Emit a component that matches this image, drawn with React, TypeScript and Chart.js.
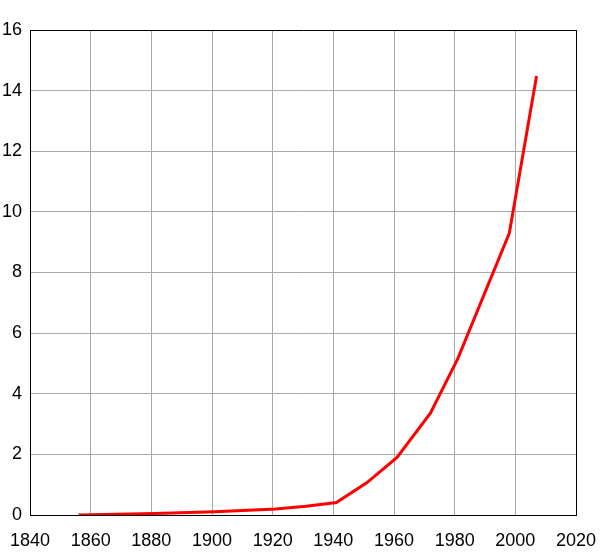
import React, { useEffect, useRef } from "react";
import { Chart, registerables } from "chart.js";

Chart.register(...registerables);

const years = [1856, 1881, 1901, 1921, 1931, 1941, 1951, 1961, 1972, 1981, 1998, 2007];
const values = [0.0, 0.05, 0.11, 0.2, 0.29, 0.41, 1.06, 1.9, 3.36, 5.15, 9.29, 14.48];

const xMin = 1840;
const xMax = 2020;
const xStep = 20;
const yMin = 0;
const yMax = 16;
const yStep = 2;

const FONT = { family: "'Liberation Sans', Arial, sans-serif", size: 18 };

export default function App() {
  const ref = useRef<HTMLCanvasElement | null>(null);

  useEffect(() => {
    document.body.style.margin = "0";
    const canvas = ref.current;
    if (!canvas) return;
    const chart = new Chart(canvas, {
      type: "line",
      data: {
        datasets: [
          {
            data: years.map((y, i) => ({ x: y, y: values[i] })),
            borderColor: "#ff0000",
            borderWidth: 3,
            pointRadius: 0,
            tension: 0,
            fill: false,
          },
        ],
      },
      options: {
        animation: false,
        responsive: false,
        maintainAspectRatio: false,
        layout: { padding: { top: 30, right: 24, left: 0, bottom: 0 } },
        plugins: { legend: { display: false }, tooltip: { enabled: false } },
        scales: {
          x: {
            type: "linear",
            min: xMin,
            max: xMax,
            ticks: {
              stepSize: xStep,
              color: "#000",
              font: FONT,
              padding: 15,
              maxRotation: 0,
              autoSkip: false,
              callback: (v: any) => String(v),
            },
            grid: {
              drawTicks: false,
              lineWidth: 1,
              color: (ctx: any) => (ctx.tick && ctx.tick.value === xMax ? "#000" : "#a9a9a9"),
            },
            border: { color: "#000", width: 1 },
            afterFit: (s: any) => {
              s.height = 43;
              s.paddingLeft = 0;
              s.paddingRight = 0;
            },
          },
          y: {
            min: yMin,
            max: yMax,
            ticks: {
              stepSize: yStep,
              color: "#000",
              font: FONT,
              padding: 8,
            },
            grid: {
              drawTicks: false,
              lineWidth: 1,
              color: (ctx: any) => (ctx.tick && ctx.tick.value === yMax ? "#000" : "#a9a9a9"),
            },
            border: { color: "#000", width: 1 },
            afterFit: (s: any) => {
              s.width = 30;
              s.paddingTop = 0;
              s.paddingBottom = 0;
            },
          },
        },
      },
    });
    return () => chart.destroy();
  }, []);

  return <canvas ref={ref} width={600} height={558} style={{ display: "block" }} />;
}
